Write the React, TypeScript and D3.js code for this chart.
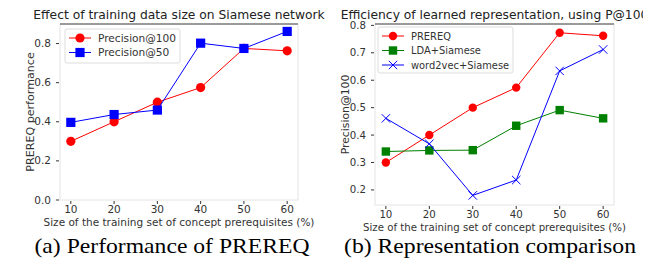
import * as d3 from 'd3';
import * as React from 'react';

// x values shared by both panels (training set size, %)
const sizes = [10, 20, 30, 40, 50, 60];

// panel (a)
const precision100 = [0.3, 0.4, 0.5, 0.575, 0.775, 0.763];
const precision50 = [0.397, 0.437, 0.46, 0.802, 0.775, 0.862];
const yTicksA = [0.0, 0.2, 0.4, 0.6, 0.8];

// panel (b)
const prereq = [0.3, 0.4, 0.5, 0.573, 0.773, 0.762];
const ldaSiamese = [0.34, 0.344, 0.345, 0.434, 0.491, 0.461];
const w2vSiamese = [0.461, 0.368, 0.18, 0.236, 0.634, 0.712];
const yTicksB = [0.2, 0.3, 0.4, 0.5, 0.6, 0.7, 0.8];

const FONT = 'DejaVu Sans, sans-serif';
const SERIF = 'Liberation Serif, Times New Roman, serif';

interface ISeries {
  name: string;
  values: number[];
  color: string;
  marker: 'circle' | 'square' | 'x';
}

interface IPanel {
  id: string;
  title: string;
  yLabel: string;
  caption: string;
  captionX: number;
  captionWidth: number;
  series: ISeries[];
  yDomain: [number, number];
  yTicks: number[];
  box: { left: number; right: number; top: number; bottom: number };
  legend: { x: number; y: number; w: number; h: number };
  clipRight?: number;
  mSize: number;
  fs: number;
  legendFs: number;
  yLabelX: number;
}

const panels: IPanel[] = [
  {
    id: 'a',
    title: 'Effect of training data size on Siamese network',
    yLabel: 'PREREQ performance',
    caption: '(a) Performance of PREREQ',
    captionX: 172,
    captionWidth: 275,
    series: [
      { name: 'Precision@100', values: precision100, color: '#ff0000', marker: 'circle' },
      { name: 'Precision@50', values: precision50, color: '#0000ff', marker: 'square' },
    ],
    yDomain: [0, 0.9],
    yTicks: yTicksA,
    box: { left: 60, right: 298, top: 24, bottom: 200 },
    legend: { x: 65, y: 29, w: 115, h: 34 },
    mSize: 4.6,
    fs: 10.5,
    legendFs: 10.6,
    yLabelX: 33.5,
  },
  {
    id: 'b',
    title: 'Efficiency of learned representation, using P@100',
    yLabel: 'Precision@100',
    caption: '(b) Representation comparison',
    captionX: 490,
    captionWidth: 292,
    series: [
      { name: 'PREREQ', values: prereq, color: '#ff0000', marker: 'circle' },
      { name: 'LDA+Siamese', values: ldaSiamese, color: '#008000', marker: 'square' },
      { name: 'word2vec+Siamese', values: w2vSiamese, color: '#0000ff', marker: 'x' },
    ],
    yDomain: [0.145, 0.805],
    yTicks: yTicksB,
    box: { left: 375, right: 614, top: 24, bottom: 205 },
    legend: { x: 378, y: 27, w: 135, h: 46 },
    clipRight: 643,
    mSize: 4.2,
    fs: 10.2,
    legendFs: 9.9,
    yLabelX: 348.5,
  },
];

function Marker(props: { kind: string; x: number; y: number; color: string; r: number }) {
  const { kind, x, y, color, r } = props;
  if (kind === 'circle') {
    return <circle cx={x} cy={y} r={r} fill={color} />;
  }
  if (kind === 'square') {
    return <rect x={x - r} y={y - r} width={2 * r} height={2 * r} fill={color} />;
  }
  return (
    <path
      d={`M${x - r},${y - r}L${x + r},${y + r}M${x - r},${y + r}L${x + r},${y - r}`}
      stroke={color}
      strokeWidth={1}
      fill='none'
    />
  );
}

function Panel(props: { p: IPanel }) {
  const { p } = props;
  const { box, fs } = p;
  const x = d3.scaleLinear().domain([7.5, 62.5]).range([box.left, box.right]);
  const y = d3.scaleLinear().domain(p.yDomain).range([box.bottom, box.top]);
  const line = d3.line<number>()
    .x((d, i) => x(sizes[i]))
    .y((d) => y(d));
  const midX = (box.left + box.right) / 2;
  const midY = (box.top + box.bottom) / 2;

  return (
    <g>
      {p.clipRight && (
        <clipPath id={`clip-${p.id}`}>
          <rect x={0} y={0} width={p.clipRight} height={264} />
        </clipPath>
      )}
      {/* faint frame, darker top edge */}
      <rect x={box.left} y={box.top} width={box.right - box.left} height={box.bottom - box.top}
        fill='white' stroke='#e4e4e4' strokeWidth={1} />
      <line x1={box.left} x2={box.right} y1={box.top} y2={box.top} stroke='#444' strokeWidth={1} />

      <text x={midX} y={19} textAnchor='middle' fontFamily={FONT} fontSize={12.3} fill='#222'
        clipPath={p.clipRight ? `url(#clip-${p.id})` : undefined}>
        {p.title}
      </text>

      {p.yTicks.map((t) => (
        <g key={t}>
          <line x1={box.left - 4} x2={box.left - 1} y1={y(t)} y2={y(t)} stroke='#333' />
          <text x={box.left - 9} y={y(t) + 3.5} textAnchor='end' fontFamily={FONT} fontSize={fs} fill='#333'>
            {t.toFixed(1)}
          </text>
        </g>
      ))}
      {sizes.map((s) => (
        <g key={s}>
          <line x1={x(s)} x2={x(s)} y1={box.bottom + 1} y2={box.bottom + 4} stroke='#333' />
          <text x={x(s)} y={box.bottom + 13} textAnchor='middle' fontFamily={FONT} fontSize={fs} fill='#333'>
            {s}
          </text>
        </g>
      ))}

      <text x={midX} y={box.bottom + 25.5} textAnchor='middle' fontFamily={FONT} fontSize={fs} fill='#333'>
        Size of the training set of concept prerequisites (%)
      </text>
      <text transform={`translate(${p.yLabelX},${midY}) rotate(-90)`} textAnchor='middle'
        fontFamily={FONT} fontSize={fs + 0.6} fill='#333'>
        {p.yLabel}
      </text>

      {p.series.map((s) => (
        <g key={s.name}>
          <path d={line(s.values) || ''} fill='none' stroke={s.color} strokeWidth={1} />
          {s.values.map((v, i) => (
            <Marker key={i} kind={s.marker} x={x(sizes[i])} y={y(v)} color={s.color} r={p.mSize} />
          ))}
        </g>
      ))}

      <rect x={p.legend.x} y={p.legend.y} width={p.legend.w} height={p.legend.h} rx={2}
        fill='white' fillOpacity={0.85} stroke='#dddddd' />
      {p.series.map((s, i) => {
        const ly = p.legend.y + 9 + i * 14.5;
        return (
          <g key={s.name}>
            <line x1={p.legend.x + 4} x2={p.legend.x + 26} y1={ly} y2={ly} stroke={s.color} />
            <Marker kind={s.marker} x={p.legend.x + 15} y={ly} color={s.color} r={p.mSize} />
            <text x={p.legend.x + 33} y={ly + 3.5} fontFamily={FONT} fontSize={p.legendFs} fill='#333'>
              {s.name}
            </text>
          </g>
        );
      })}

      <text x={p.captionX} y={253} textAnchor='middle' fontFamily={SERIF} fontSize={21}
        textLength={p.captionWidth} lengthAdjust='spacingAndGlyphs' fill='#000'>
        {p.caption}
      </text>
    </g>
  );
}

export default function App() {
  return (
    <svg width={666} height={264} style={{ position: 'absolute', left: 0, top: 0, background: 'white' }}>
      <rect width={666} height={264} fill='white' />
      {panels.map((p) => <Panel key={p.id} p={p} />)}
    </svg>
  );
}
